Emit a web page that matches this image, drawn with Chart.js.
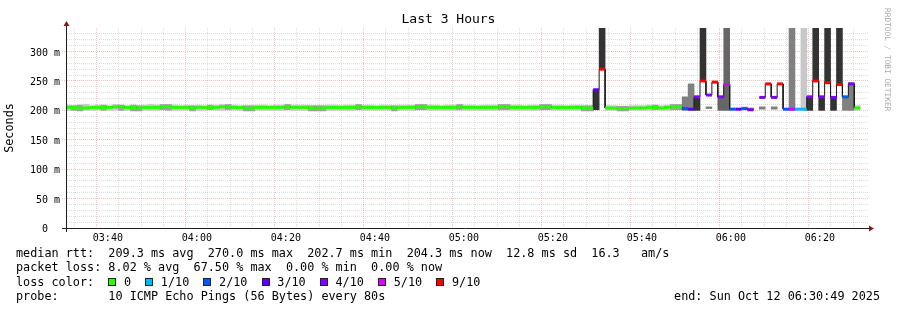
<!DOCTYPE html>
<html>
<head>
<meta charset="utf-8">
<script src="https://cdn.jsdelivr.net/npm/chart.js@4.4.1/dist/chart.umd.min.js"></script>
<style>
  html, body { margin: 0; padding: 0; background: #fff; }
  #wrap { position: relative; width: 897px; height: 310px; overflow: hidden;
          font-family: "DejaVu Sans Mono", monospace; color: #000; }
  #chart { position: absolute; left: 0; top: 0; }
  .title { position: absolute; left: 0; width: 897px; top: 11px; line-height: 16px;
           text-align: center; font-size: 13px; }
  .leg { position: absolute; left: 16px; font-size: 11.8px; line-height: 14.3px; white-space: pre; }
  .end { position: absolute; right: 17px; font-size: 11.8px; line-height: 14.3px; white-space: pre; }
  .sq { display: inline-block; width: 8px; height: 8px; box-sizing: border-box;
        border: 1px solid #222; margin-right: 7.6px; vertical-align: -0.5px; }
  .side { position: absolute; left: 882px; top: 8px; writing-mode: vertical-rl;
          font-size: 7.8px; line-height: 10px; color: #aaa; white-space: pre; }
</style>
</head>
<body>
<div id="wrap">
  <canvas id="chart" width="897" height="310"></canvas>
  <div class="title">Last 3 Hours</div>
  <div class="side">RRDTOOL / TOBI OETIKER</div>
  <div class="leg" style="top:246px">median rtt:  209.3 ms avg  270.0 ms max  202.7 ms min  204.3 ms now  12.8 ms sd  16.3   am/s</div>
  <div class="leg" style="top:260.3px">packet loss: 8.02 % avg  67.50 % max  0.00 % min  0.00 % now</div>
  <div class="leg" id="losslegend" style="top:274.6px"></div>
  <div class="leg" style="top:288.9px">probe:       10 ICMP Echo Pings (56 Bytes) every 80s</div>
  <div class="end" style="top:288.9px">end: Sun Oct 12 06:30:49 2025</div>
</div>
<script>
  // time window and sampling (80 s steps)
  const axisStart = '03:30:49'
  const axisEnd = '06:30:49'
  const firstSample = '03:30:24'
  const stepSeconds = 80

  // median rtt per step (ms), null = no answer
  const median = [
    205,205,204,204,205,205,205,205,206,206,
    205,205,204,205,205,205,206,206,205,205,
    205,204,205,205,205,205,206,206,205,205,
    204,204,205,205,205,205,205,206,205,205,
    205,204,204,204,205,205,205,205,205,206,
    205,205,205,205,205,204,205,205,205,206,
    206,205,205,205,205,205,206,205,205,205,
    205,205,205,206,206,205,205,205,205,205,
    206,206,205,205,205,205,205,204,204,235,
    270,204,204,203,203,204,204,204,205,205,
    204,205,206,206,203,202,223,250,226,248,
    223,244,202,202,203,201,null,222,245,222,
    245,202,202,202,202,223,250,223,247,222,
    244,223,245,204
  ]

  // lost pings out of 10 per step
  const loss = [
    0,0,0,0,0,0,0,0,0,0,
    0,0,0,0,0,0,0,0,0,0,
    0,0,0,0,0,0,0,0,0,0,
    0,0,0,0,0,0,0,0,0,0,
    0,0,0,0,0,0,0,0,0,0,
    0,0,0,0,0,0,0,0,0,0,
    0,0,0,0,0,0,0,0,0,0,
    0,0,0,0,0,0,0,0,0,0,
    0,0,0,0,0,0,0,0,0,3,
    9,0,0,0,0,0,0,0,0,0,
    0,0,0,0,2,3,4,9,4,9,
    4,5,2,3,2,4,10,4,9,4,
    9,2,5,1,1,4,9,4,9,4,
    9,2,4,0
  ]

  // smoke: spread of the single pings (ms), and how dense the smoke is (0..5)
  const smokeLo = [
    200,200,199,200,200,201,200,200,201,200,
    200,199,199,200,200,200,201,200,200,200,
    200,199,200,200,201,200,200,201,200,200,
    199,199,200,200,200,200,200,201,200,200,
    200,199,199,199,200,200,200,200,200,201,
    200,200,200,200,200,199,200,200,200,201,
    201,200,200,200,200,200,201,200,200,200,
    200,200,200,201,201,200,200,200,200,200,
    201,201,200,200,200,200,200,199,199,201,
    270,200,200,199,199,200,200,200,200,201,
    200,200,201,201,200,200,200,250,203,null,
    200,200,null,null,202,200,null,202,null,202,
    null,null,200,null,200,200,250,200,247,200,
    244,200,200,200
  ]
  const smokeHi = [
    209,208,209,210,208,209,209,208,210,209,
    208,209,208,209,210,209,210,210,209,208,
    209,208,209,208,209,209,210,210,209,208,
    208,208,209,209,208,209,209,210,209,209,
    209,208,208,208,209,209,208,209,209,210,
    209,209,208,209,209,208,209,209,209,210,
    210,209,209,208,209,209,210,209,209,208,
    209,209,209,210,210,209,209,208,209,209,
    210,210,209,209,208,209,209,208,208,235,
    400,208,208,207,207,208,208,208,209,209,
    208,209,210,210,223,245,223,400,206,null,
    223,400,null,null,206,204,null,206,null,206,
    null,null,400,null,400,223,400,223,400,222,
    400,223,247,208
  ]
  const smokeDensity = [
    1,2,2,1,1,1,2,1,1,2,
    1,2,2,1,1,1,2,2,1,1,
    1,2,1,1,2,1,1,2,1,1,
    2,2,1,1,1,1,1,2,1,1,
    1,2,2,2,1,1,1,1,1,2,
    1,1,1,1,1,2,1,1,1,2,
    2,1,1,1,1,1,2,1,1,1,
    1,1,1,2,2,1,1,1,1,1,
    2,2,1,1,1,1,1,2,2,5,
    5,1,1,2,2,1,1,1,1,2,
    1,1,2,2,3,3,5,5,3,0,
    4,4,0,0,1,3,0,3,0,3,
    0,0,3,0,1,5,5,5,5,5,
    5,3,3,1
  ]

  const lossLabels = ['0', '1/10', '2/10', '3/10', '4/10', '5/10', '9/10']
  const lossLevels = [0, 1, 2, 3, 4, 5, 9]
  const lossColors = ['#26ff00', '#00b8ff', '#0059ff', '#5e00ff', '#7e00ff', '#dd00ff', '#ff0000']
  const smokeShades = ['rgba(0,0,0,0)', '#c8c8c8', '#a0a0a0', '#808080', '#666666', '#333333']

  const gridMinor = 'rgba(143,143,143,0.75)'
  const gridMajor = 'rgba(222,79,79,0.6)'

  const toMin = s => { const [h, m, sec] = s.split(':').map(Number); return h * 60 + m + sec / 60 }
  const hhmm = v => String(Math.floor(v / 60)).padStart(2, '0') + ':' + String(v % 60).padStart(2, '0')
  const colorForLoss = l => {
    let c = lossColors[0]
    lossLevels.forEach((lv, k) => { if (l >= lv) c = lossColors[k] })
    return c
  }

  const t0 = toMin(firstSample)
  const dt = stepSeconds / 60

  // legend row with the loss colours
  const ll = document.getElementById('losslegend')
  let html = 'loss color:  '
  lossLabels.forEach((lab, k) => {
    html += '<span class="sq" style="background:' + lossColors[k] + '"></span>' + lab + (k < lossLabels.length - 1 ? '  ' : '')
  })
  ll.innerHTML = html

  // median as start/end point per step -> horizontal runs joined by vertical steps
  const medianPts = []
  median.forEach((m, i) => {
    const s = t0 + i * dt
    medianPts.push({ x: s, y: m }, { x: s + dt, y: m })
  })

  const smokePts = []
  smokeLo.forEach((lo, i) => {
    if (lo === null) return
    smokePts.push({ x: t0 + i * dt + dt / 2, y: [lo, smokeHi[i]], d: smokeDensity[i] })
  })

  const rrdAxes = {
    id: 'rrdAxes',
    afterDatasetsDraw(chart) {
      const { ctx, chartArea: a } = chart
      ctx.save()
      ctx.strokeStyle = '#1f1f1f'
      ctx.lineWidth = 1
      ctx.beginPath()
      ctx.moveTo(a.left - 0.5, a.top - 2)
      ctx.lineTo(a.left - 0.5, a.bottom + 4)
      ctx.moveTo(a.left - 5, a.bottom + 0.5)
      ctx.lineTo(a.right + 1, a.bottom + 0.5)
      ctx.stroke()
      ctx.fillStyle = '#801f1f'
      ctx.beginPath()
      ctx.moveTo(a.left - 0.5, a.top - 7)
      ctx.lineTo(a.left - 3.5, a.top - 2)
      ctx.lineTo(a.left + 2.5, a.top - 2)
      ctx.closePath()
      ctx.fill()
      ctx.beginPath()
      ctx.moveTo(a.right + 6, a.bottom + 0.5)
      ctx.lineTo(a.right + 1, a.bottom - 2.5)
      ctx.lineTo(a.right + 1, a.bottom + 3.5)
      ctx.closePath()
      ctx.fill()
      ctx.restore()
    }
  }

  Chart.defaults.font.family = '"DejaVu Sans Mono", monospace'
  Chart.defaults.color = '#000'

  new Chart(document.getElementById('chart'), {
    type: 'line',
    data: {
      datasets: [
        {
          type: 'line',
          data: medianPts,
          borderWidth: 3,
          borderColor: '#26ff00',
          segment: {
            borderColor: c => c.p0DataIndex % 2 === 0 ? colorForLoss(loss[c.p0DataIndex / 2]) : 'rgba(0,0,0,0)'
          },
          pointRadius: 0,
          spanGaps: false,
          clip: 0
        },
        {
          type: 'line',
          data: medianPts,
          borderWidth: 1,
          borderColor: '#1a1a1a',
          pointRadius: 0,
          spanGaps: false,
          clip: 0
        },
        {
          type: 'bar',
          data: smokePts,
          backgroundColor: c => smokeShades[c.raw ? c.raw.d : 0],
          borderWidth: 0,
          barPercentage: 1,
          categoryPercentage: 1,
          clip: 0
        }
      ]
    },
    options: {
      responsive: false,
      maintainAspectRatio: false,
      animation: false,
      layout: { padding: { top: 28, right: 29, left: 0, bottom: 0 } },
      plugins: { legend: { display: false }, tooltip: { enabled: false } },
      scales: {
        x: {
          type: 'linear',
          min: toMin(axisStart),
          max: toMin(axisEnd),
          offset: false,
          afterBuildTicks: s => {
            const t = []
            for (let v = Math.ceil(s.min / 5) * 5; v <= s.max; v += 5) t.push({ value: v })
            s.ticks = t
          },
          afterFit: s => { s.height = 82 },
          ticks: {
            autoSkip: false, maxRotation: 0, minRotation: 0, padding: 4,
            font: { size: 10 },
            callback: v => v % 20 === 0 ? hhmm(v) : ''
          },
          grid: {
            drawTicks: false,
            color: c => c.tick && c.tick.value % 20 === 0 ? gridMajor : gridMinor,
            lineWidth: c => c.tick && c.tick.value % 20 === 0 ? 0.6 : 0.4
          },
          border: { display: false, dash: [1, 1] }
        },
        y: {
          min: 0,
          max: 340,
          afterBuildTicks: s => {
            const t = []
            for (let v = 0; v < 340; v += 10) t.push({ value: v })
            s.ticks = t
          },
          afterFit: s => { s.width = 67 },
          ticks: {
            autoSkip: false, padding: 2, labelOffset: 1.5,
            font: { size: 10 },
            callback: v => v % 50 ? '' : (v === 0 ? '0  ' : v + ' m')
          },
          grid: {
            tickLength: 5,
            tickWidth: 0.6,
            tickBorderDash: [1, 1],
            tickColor: c => c.tick && c.tick.value % 50 === 0 && c.tick.value > 0 ? gridMajor : 'rgba(0,0,0,0)',
            color: c => {
              if (!c.tick || c.tick.value === 0) return 'rgba(0,0,0,0)'
              return c.tick.value % 50 === 0 ? gridMajor : gridMinor
            },
            lineWidth: c => c.tick && c.tick.value % 50 === 0 ? 0.6 : 0.4
          },
          border: { display: false, dash: [1, 1] },
          title: {
            display: true,
            text: 'Seconds',
            font: { size: 11.8 },
            padding: { top: 3, bottom: 0 }
          }
        }
      }
    },
    plugins: [rrdAxes]
  })
</script>
</body>
</html>
